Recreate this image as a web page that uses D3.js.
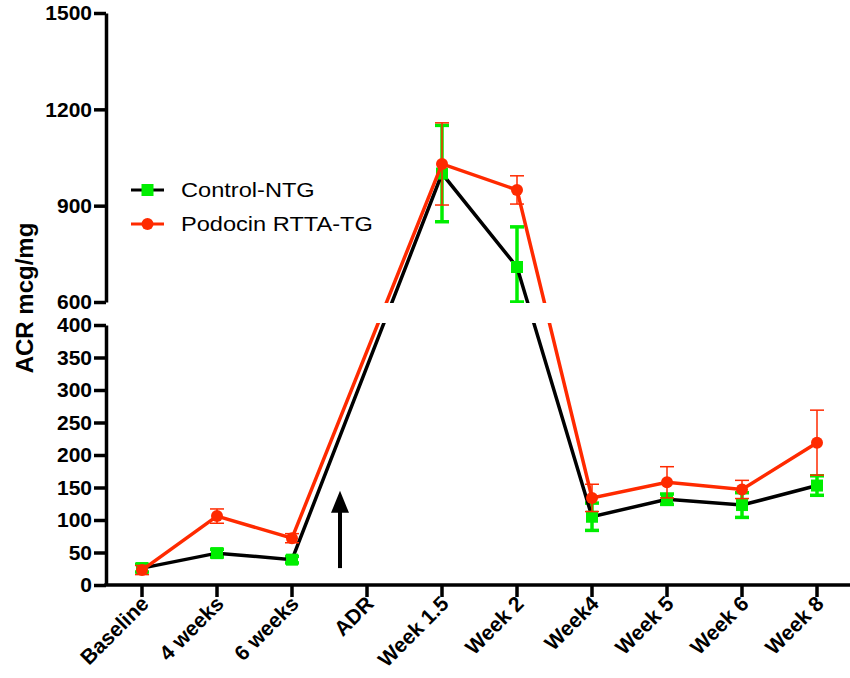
<!DOCTYPE html>
<html>
<head>
<meta charset="utf-8">
<script src="https://cdn.jsdelivr.net/npm/d3@7"></script>
<style>
  body { margin: 0; background: #fff; }
  svg { font-family: "Liberation Sans", Arial, sans-serif; }
</style>
</head>
<body>
<svg id="chart" width="850" height="678"></svg>
<script>
// カテゴリと系列データ
const categories = ['Baseline', '4 weeks', '6 weeks', 'ADR', 'Week 1.5', 'Week 2', 'Week4', 'Week 5', 'Week 6', 'Week 8'];
const seriesNames = ['Control-NTG', 'Podocin RTTA-TG'];
// ADR には値なし (null)
const controlMean = [26, 49, 39, null, 1000, 709, 105, 132, 123, 153];
const controlErr  = [6, 6, 5, null, 150, 125, 21, 8, 19, 15];
const podocinMean = [23, 106, 72, null, 1030, 949, 134, 158, 147, 219];
const podocinErr  = [7, 11, 7, null, 128, 44, 21, 24, 14, 50];
const lowTicks  = [0, 50, 100, 150, 200, 250, 300, 350, 400];
const highTicks = [600, 900, 1200, 1500];

const svg = d3.select('#chart');
const x = d3.scalePoint().domain(categories).range([142, 817]);
const yLow = d3.scaleLinear().domain([0, 400]).range([585, 325]);
const yHigh = d3.scaleLinear().domain([600, 1500]).range([302, 13]);
const y = v => v <= 400 ? yLow(v) : (v >= 600 ? yHigh(v) : yHigh(600));

const series = [
  { name: seriesNames[0], mean: controlMean, err: controlErr, line: '#000', mark: '#00ee00', shape: 'square', errW: 3.5 },
  { name: seriesNames[1], mean: podocinMean, err: podocinErr, line: '#ff2a00', mark: '#ff2a00', shape: 'circle', errW: 1.5 }
];

const line = d3.line()
  .defined(d => d.v != null)
  .x(d => x(d.c))
  .y(d => y(d.v));

const plot = svg.append('g');

// 誤差棒
function drawErrors(s) {
  const g = plot.append('g');
  categories.forEach((c, i) => {
    if (s.mean[i] == null) return;
    const top = y(s.mean[i] + s.err[i]);
    const bot = y(s.mean[i] - s.err[i]);
    const cx = x(c);
    g.append('line').attr('x1', cx).attr('x2', cx).attr('y1', top).attr('y2', bot)
      .attr('stroke', s.mark).attr('stroke-width', s.errW);
    [top, bot].forEach(yy => {
      g.append('line').attr('x1', cx - 7).attr('x2', cx + 7).attr('y1', yy).attr('y2', yy)
        .attr('stroke', s.mark).attr('stroke-width', s.errW);
    });
  });
}

function drawLine(s) {
  const pts = categories.map((c, i) => ({ c, v: s.mean[i] })).filter(d => d.v != null);
  plot.append('path').datum(pts)
    .attr('d', line)
    .attr('fill', 'none')
    .attr('stroke', s.line)
    .attr('stroke-width', 3.5);
}

function drawMarks(s) {
  const pts = categories.map((c, i) => ({ c, v: s.mean[i] })).filter(d => d.v != null);
  if (s.shape === 'square') {
    plot.append('g').selectAll('rect').data(pts).enter().append('rect')
      .attr('x', d => x(d.c) - 6).attr('y', d => y(d.v) - 6)
      .attr('width', 12).attr('height', 12).attr('fill', s.mark);
  } else {
    plot.append('g').selectAll('circle').data(pts).enter().append('circle')
      .attr('cx', d => x(d.c)).attr('cy', d => y(d.v)).attr('r', 6).attr('fill', s.mark);
  }
}

series.forEach(s => {
  drawErrors(s);
  drawLine(s);
  drawMarks(s);
});

// 軸の切れ目（白で隠す）
plot.append('rect').attr('x', 100).attr('y', 303).attr('width', 750).attr('height', 20).attr('fill', '#fff');

// ADR の矢印
const ax = x('ADR') - 27;
svg.append('line').attr('x1', ax).attr('x2', ax).attr('y1', yLow(26)).attr('y2', yLow(115))
  .attr('stroke', '#000').attr('stroke-width', 4);
svg.append('path')
  .attr('d', `M${ax - 9},${yLow(111)} L${ax},${yLow(145)} L${ax + 9},${yLow(111)} Z`)
  .attr('fill', '#000');

// Y 軸
const axisW = 3.5;
const yAxisX = 106;
function yAxis(scale, ticks) {
  const g = svg.append('g').attr('transform', `translate(${yAxisX},0)`);
  g.call(d3.axisLeft(scale).tickValues(ticks).tickFormat(d3.format('d'))
    .tickSize(12).tickPadding(2).tickSizeOuter(0));
  g.select('.domain').attr('stroke-width', axisW);
  g.selectAll('.tick line').attr('stroke-width', axisW);
  g.selectAll('.tick text').attr('font-size', 21).attr('font-weight', 'bold')
    .attr('font-family', '"Liberation Sans", Arial, sans-serif').attr('fill', '#000');
  return g;
}
yAxis(yLow, lowTicks);
yAxis(yHigh, highTicks);

// X 軸
const xg = svg.append('g').attr('transform', `translate(0,585)`);
xg.append('line').attr('x1', yAxisX - 1.75).attr('x2', 850).attr('y1', 0).attr('y2', 0)
  .attr('stroke', '#000').attr('stroke-width', axisW);
xg.selectAll('.xt').data(categories).enter().append('line')
  .attr('x1', d => x(d)).attr('x2', d => x(d)).attr('y1', 0).attr('y2', 12)
  .attr('stroke', '#000').attr('stroke-width', axisW);
xg.selectAll('.xl').data(categories).enter().append('text')
  .attr('transform', d => `translate(${x(d) + 8},${20}) rotate(-45)`)
  .attr('text-anchor', 'end')
  .attr('font-size', 21).attr('font-weight', 'bold')
  .text(d => d);

// Y 軸タイトル
svg.append('text')
  .attr('transform', 'translate(33,298) rotate(-90)')
  .attr('text-anchor', 'middle')
  .attr('font-size', 24).attr('font-weight', 'bold')
  .text('ACR mcg/mg');

// 凡例
const legend = svg.append('g').attr('transform', 'translate(131,190)');
series.forEach((s, i) => {
  const gy = i * 34;
  legend.append('line').attr('x1', 0).attr('x2', 33).attr('y1', gy).attr('y2', gy)
    .attr('stroke', s.line).attr('stroke-width', 3);
  if (s.shape === 'square') {
    legend.append('rect').attr('x', 10.5).attr('y', gy - 6).attr('width', 12).attr('height', 12).attr('fill', s.mark);
  } else {
    legend.append('circle').attr('cx', 16.5).attr('cy', gy).attr('r', 6).attr('fill', s.mark);
  }
  legend.append('text')
    .attr('transform', `translate(50,${gy + 7}) scale(1.18,1)`)
    .attr('font-size', 20).attr('fill', '#000')
    .text(s.name);
});
</script>
</body>
</html>
